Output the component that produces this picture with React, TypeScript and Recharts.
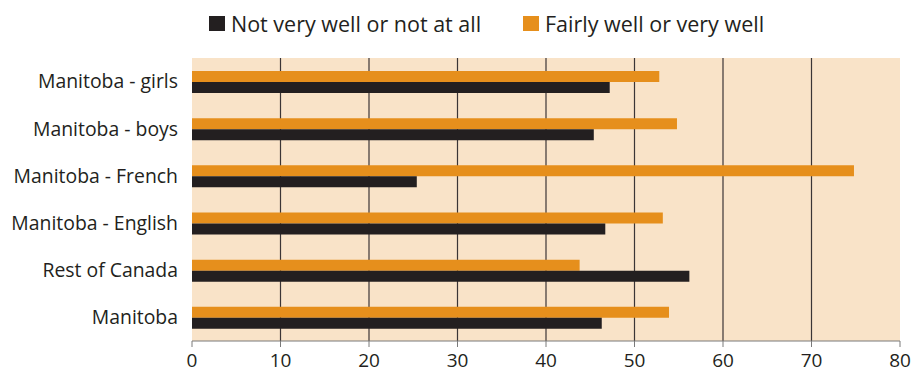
import {
  BarChart, Bar, XAxis, YAxis, CartesianGrid,
} from 'recharts'

const groups = [
  'Manitoba - girls',
  'Manitoba - boys',
  'Manitoba - French',
  'Manitoba - English',
  'Rest of Canada',
  'Manitoba',
]
const fairlyWell = [52.8, 54.8, 74.8, 53.2, 43.8, 53.9]
const notVeryWell = [47.2, 45.4, 25.4, 46.7, 56.2, 46.3]
const xTicks = [0, 10, 20, 30, 40, 50, 60, 70, 80]
const bandEdges = [0, 1, 2, 3, 4, 5, 6]

const ORANGE = '#E68F1C'
const DARK = '#231F20'
const PANEL = '#F9E3C8'
const AXIS = '#7a7a7a'
const FONT = '"Open Sans", sans-serif'

const data = groups.map((name, i) => ({
  name,
  fairly: fairlyWell[i],
  notVery: notVeryWell[i],
}))

function LegendKey({ color, label, left }: { color: string; label: string; left: number }) {
  return (
    <div style={{ position: 'absolute', left, top: 9, display: 'flex', alignItems: 'center' }}>
      <span style={{ width: 16, height: 15, background: color, display: 'inline-block', marginRight: 6 }} />
      <span style={{ fontSize: 21.5, color: DARK, fontFamily: FONT }}>{label}</span>
    </div>
  )
}

export default function App() {
  return (
    <div style={{ position: 'absolute', left: 0, top: 0, width: 924, height: 373, background: '#fff' }}>
      <LegendKey color={DARK} label="Not very well or not at all" left={209} />
      <LegendKey color={ORANGE} label="Fairly well or very well" left={523} />
      <BarChart
        width={924}
        height={373}
        data={data}
        layout="vertical"
        margin={{ top: 58, right: 24, left: 0, bottom: 0 }}
        barSize={11}
        barGap={0}
      >
        <CartesianGrid
          horizontal={false}
          fill={PANEL}
          stroke="#3b3536"
          strokeWidth={1.2}
          verticalCoordinatesGenerator={({ offset }: any) =>
            xTicks.slice(1, -1).map((t) => offset.left + (offset.width * t) / 80)
          }
        />
        <XAxis
          type="number"
          domain={[0, 80]}
          ticks={xTicks}
          interval={0}
          height={32}
          tickSize={6}
          tickMargin={7}
          tick={{ fontSize: 19, fill: DARK, fontFamily: FONT }}
          stroke={AXIS}
        />
        <XAxis
          xAxisId="top"
          orientation="top"
          type="number"
          domain={[0, 80]}
          height={0}
          tick={false}
          tickLine={false}
          axisLine={{ stroke: DARK, strokeWidth: 1.5 }}
        />
        <YAxis
          type="category"
          dataKey="name"
          width={192}
          tickLine={false}
          axisLine={false}
          tickSize={6}
          tickMargin={8}
          tick={{ fontSize: 19.4, fill: DARK, fontFamily: FONT }}
        />
        <YAxis
          yAxisId="edges"
          type="number"
          domain={[0, 6]}
          ticks={bandEdges}
          interval={0}
          width={0}
          tickSize={6}
          tick={() => <g />}
          stroke={AXIS}
        />
        <YAxis
          yAxisId="right"
          orientation="right"
          type="number"
          domain={[0, 6]}
          width={0}
          tick={false}
          tickLine={false}
          stroke={AXIS}
        />
        <Bar dataKey="fairly" fill={ORANGE} isAnimationActive={false} />
        <Bar dataKey="notVery" fill={DARK} isAnimationActive={false} />
      </BarChart>
    </div>
  )
}
